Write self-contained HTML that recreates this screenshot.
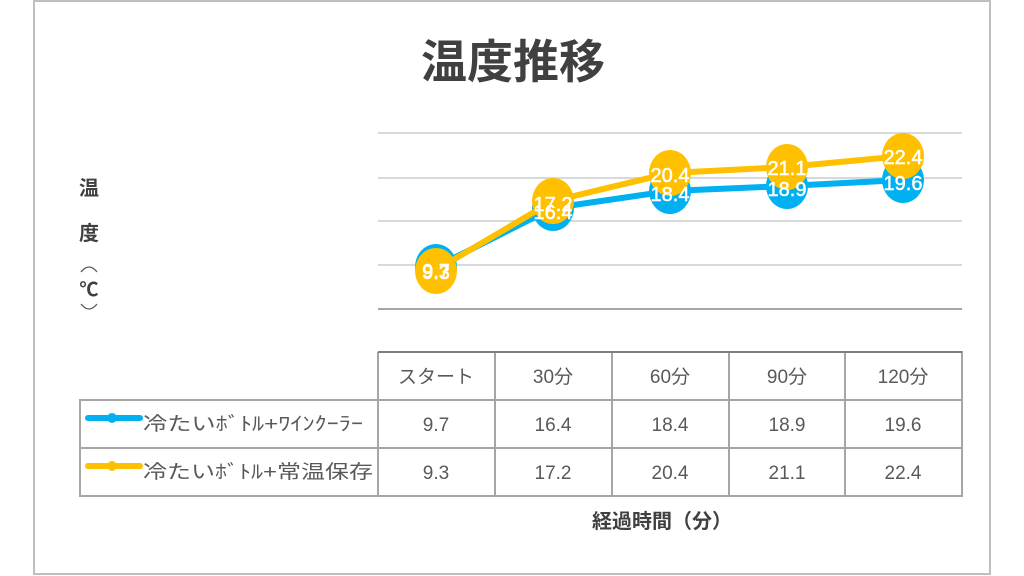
<!DOCTYPE html>
<html><head><meta charset="utf-8"><style>
html,body{margin:0;padding:0;background:#fff;}
svg{display:block;}
text{font-family:"Liberation Sans","Noto Sans CJK JP",sans-serif;}
</style></head><body>
<svg width="1024" height="576" viewBox="0 0 1024 576">
<rect x="34" y="1" width="956" height="573" fill="#fff" stroke="#bfbfbf" stroke-width="2"/>
<text x="513" y="78" text-anchor="middle" font-size="46" font-weight="bold" fill="#404040">温度推移</text>
<g font-size="20" font-weight="bold" fill="#404040" text-anchor="middle">
<text x="89" y="195">温</text>
<text x="89" y="240">度</text>
<text x="89" y="296" font-family="Liberation Serif,serif" font-size="19">℃</text>
</g>
<path d="M81 272 Q89 262 97 272" fill="none" stroke="#595959" stroke-width="1.3"/>
<path d="M81 304 Q89 314 97 304" fill="none" stroke="#595959" stroke-width="1.3"/>
<g stroke="#d9d9d9" stroke-width="2">
<line x1="378" y1="133" x2="962" y2="133"/>
<line x1="378" y1="178" x2="962" y2="178"/>
<line x1="378" y1="221" x2="962" y2="221"/>
<line x1="378" y1="265" x2="962" y2="265"/>
</g>
<line x1="378" y1="309" x2="962" y2="309" stroke="#a6a6a6" stroke-width="2"/>
<polyline points="436,267 553,208 670,191 787,186 903,180" fill="none" stroke="#00b0f0" stroke-width="6" stroke-linejoin="round"/>
<g fill="#00b0f0">
<ellipse cx="436" cy="267" rx="21" ry="23"/><ellipse cx="553" cy="208" rx="21" ry="23"/><ellipse cx="670" cy="191" rx="21" ry="23"/><ellipse cx="787" cy="186" rx="21" ry="23"/><ellipse cx="903" cy="180" rx="21" ry="23"/>
</g>
<polyline points="436,270 553,201 670,173 787,167 903,156" fill="none" stroke="#ffc000" stroke-width="6" stroke-linejoin="round"/>
<g fill="#ffc000">
<ellipse cx="436" cy="271" rx="21" ry="23"/><ellipse cx="553" cy="201" rx="21" ry="23"/><ellipse cx="670" cy="173" rx="21" ry="23"/><ellipse cx="787" cy="167" rx="21" ry="23"/><ellipse cx="903" cy="156" rx="21" ry="23"/>
</g>
<g font-size="20" fill="#fff" text-anchor="middle" stroke="#fff" stroke-width="0.5">
<text x="436" y="278">9.7</text><text x="553" y="219">16.4</text><text x="670" y="201">18.4</text><text x="787" y="196">18.9</text><text x="903" y="190">19.6</text>
<text x="436" y="279">9.3</text><text x="553" y="211">17.2</text><text x="670" y="182">20.4</text><text x="787" y="175">21.1</text><text x="903" y="164">22.4</text>
</g>
<g stroke="#a6a6a6" stroke-width="2" fill="none">
<path d="M378 352 H962 V496 H80 V400 H962 M80 448 H962 M378 352 V496 M495 352 V496 M612 352 V496 M729 352 V496 M845 352 V496"/>
</g>
<line x1="378" y1="352" x2="962" y2="352" stroke="#7f7f7f" stroke-width="2"/>
<g font-size="19" fill="#595959" text-anchor="middle">
<text x="436" y="383">スタート</text><text x="553" y="383">30分</text><text x="670" y="383">60分</text><text x="787" y="383">90分</text><text x="903" y="383">120分</text>
<text x="436" y="431">9.7</text><text x="553" y="431">16.4</text><text x="670" y="431">18.4</text><text x="787" y="431">18.9</text><text x="903" y="431">19.6</text>
<text x="436" y="479">9.3</text><text x="553" y="479">17.2</text><text x="670" y="479">20.4</text><text x="787" y="479">21.1</text><text x="903" y="479">22.4</text>
</g>
<line x1="88" y1="418" x2="140" y2="418" stroke="#00b0f0" stroke-width="6" stroke-linecap="round"/>
<circle cx="112" cy="418" r="5" fill="#00b0f0"/>
<line x1="88" y1="466" x2="140" y2="466" stroke="#ffc000" stroke-width="6" stroke-linecap="round"/>
<circle cx="112" cy="466" r="5" fill="#ffc000"/>
<g font-size="19" fill="#595959">
<text x="143" y="430" textLength="220" lengthAdjust="spacingAndGlyphs">冷たいﾎﾞﾄﾙ+ﾜｲﾝｸｰﾗｰ</text>
<text x="143" y="478" textLength="230" lengthAdjust="spacingAndGlyphs">冷たいﾎﾞﾄﾙ+常温保存</text>
</g>
<text x="662" y="528" text-anchor="middle" font-size="20" font-weight="bold" fill="#404040">経過時間（分）</text>
</svg>
</body></html>
